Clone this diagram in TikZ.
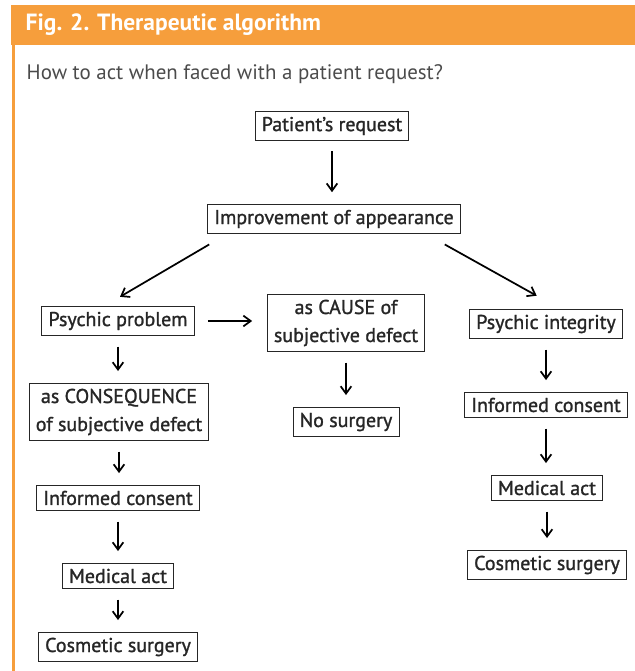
\documentclass[tikz,border=0pt]{standalone}
\usepackage{fontspec}
\setmainfont{PT Sans}
\usetikzlibrary{arrows.meta}
\definecolor{algoorange}{RGB}{246,158,60}
\definecolor{algodarkgray}{RGB}{38,38,38}
\definecolor{algotextgray}{RGB}{75,75,75}
\tikzset{
  stepbox/.style={draw=algodarkgray, line width=0.6pt, fill=white,
    text=algodarkgray, inner xsep=5pt, inner ysep=4pt, align=center,
    font=\fontsize{15}{21}\selectfont\addfontfeature{FakeBold=1.2}},
  flow/.style={-{Straight Barb[length=5.5pt,width=8pt]}, line width=1.3pt, black,
    shorten <=8pt, shorten >=9pt},
}
\begin{document}
\begin{tikzpicture}[x=0.75pt,y=-0.75pt]
  \useasboundingbox (0,0) rectangle (635,671);
  % frame and title
  \fill[algoorange] (11,5) rectangle (635,45);
  \draw[algoorange, line width=2.2pt] (13.5,45) -- (13.5,671);
  \node[anchor=west, text=white, font=\bfseries\fontsize{17.6}{20}\selectfont]
    (title) at (21,25) {Fig. 2. Therapeutic algorithm};
  \node[anchor=west, text=algotextgray, font=\fontsize{15.7}{18}\selectfont]
    (question) at (22,74) {How to act when faced with a patient request?};

  % top
  \node[stepbox] (request) at (332,126) {Patient's request};
  \node[stepbox] (improve) at (334,219) {Improvement of appearance};

  % left branch
  \node[stepbox] (problem) at (118,321) {Psychic problem};
  \node[stepbox] (cause) at (346,323) {as CAUSE of\\subjective defect};
  \node[stepbox] (nosurg) at (346,422) {No surgery};
  \node[stepbox] (conseq) at (119,412) {as CONSEQUENCE\\of subjective defect};
  \node[stepbox] (consentl) at (118,498) {Informed consent};
  \node[stepbox] (medicall) at (118,576) {Medical act};
  \node[stepbox] (cosmeticl) at (118,647) {Cosmetic surgery};

  % right branch
  \node[stepbox] (integrity) at (546,324) {Psychic integrity};
  \node[stepbox] (consentr) at (546,405) {Informed consent};
  \node[stepbox] (medicalr) at (547,488) {Medical act};
  \node[stepbox] (cosmeticr) at (547,565) {Cosmetic surgery};

  % arrows
  \draw[flow] (request.south) -- (request.south |- improve.north);
  \draw[flow, shorten <=0pt, shorten >=0pt]
    ([xshift=1.5pt,yshift=-8pt]improve.south west) -- ([xshift=1.5pt,yshift=7pt]problem.north);
  \draw[flow, shorten <=0pt, shorten >=0pt]
    ([xshift=-12pt,yshift=-8pt]improve.south east) -- ([xshift=-7pt,yshift=10pt]integrity.north);
  \draw[flow, shorten <=10pt, shorten >=11pt] (problem.east) -- (problem.east -| cause.west);
  \draw[flow] (cause.south) -- (cause.south |- nosurg.north);
  \draw[flow] (problem.south) -- (problem.south |- conseq.north);
  \draw[flow] (conseq.south) -- (conseq.south |- consentl.north);
  \draw[flow] (consentl.south) -- (consentl.south |- medicall.north);
  \draw[flow] (medicall.south) -- (medicall.south |- cosmeticl.north);
  \draw[flow] (integrity.south) -- (integrity.south |- consentr.north);
  \draw[flow] (consentr.south) -- (consentr.south |- medicalr.north);
  \draw[flow] (medicalr.south) -- (medicalr.south |- cosmeticr.north);
\end{tikzpicture}
\end{document}
